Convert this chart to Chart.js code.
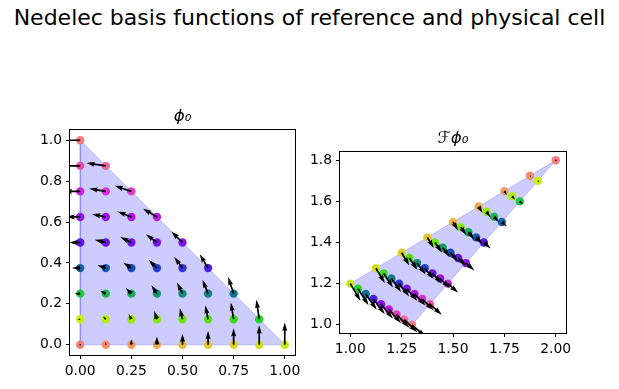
<!DOCTYPE html>
<html>
<head>
<meta charset="utf-8">
<script src="https://cdn.jsdelivr.net/npm/chart.js@4.4.1/dist/chart.umd.min.js"></script>
<style>
body { margin: 0; background: #fff; }
#wrap { position: relative; width: 619px; height: 389px; overflow: hidden; }
#wrap canvas { position: absolute; left: 0; top: 0; }
#sup { position: absolute; left: 0; top: 5px; width: 619px; text-align: center;
       font-family: 'DejaVu Sans'; font-size: 22px; color: #000; }
</style>
</head>
<body>
<div id="wrap">
  <div id="sup">Nedelec basis functions of reference and physical cell</div>
  <canvas id="refChart" width="619" height="389"></canvas>
  <canvas id="physChart" width="619" height="389"></canvas>
</div>
<script>
// reference cell: sample points and basis function phi_0 at them
const refX = [0, 0.125, 0.25, 0.375, 0.5, 0.625, 0.75, 0.875, 1,
  0, 0.125, 0.25, 0.375, 0.5, 0.625, 0.75, 0.875,
  0, 0.125, 0.25, 0.375, 0.5, 0.625, 0.75,
  0, 0.125, 0.25, 0.375, 0.5, 0.625,
  0, 0.125, 0.25, 0.375, 0.5,
  0, 0.125, 0.25, 0.375,
  0, 0.125, 0.25,
  0, 0.125,
  0]
const refY = [0, 0, 0, 0, 0, 0, 0, 0, 0,
  0.125, 0.125, 0.125, 0.125, 0.125, 0.125, 0.125, 0.125,
  0.25, 0.25, 0.25, 0.25, 0.25, 0.25, 0.25,
  0.375, 0.375, 0.375, 0.375, 0.375, 0.375,
  0.5, 0.5, 0.5, 0.5, 0.5,
  0.625, 0.625, 0.625, 0.625,
  0.75, 0.75, 0.75,
  0.875, 0.875,
  1]
const refU = [0, 0, 0, 0, 0, 0, 0, 0, 0,
  -0.125, -0.125, -0.125, -0.125, -0.125, -0.125, -0.125, -0.125,
  -0.25, -0.25, -0.25, -0.25, -0.25, -0.25, -0.25,
  -0.375, -0.375, -0.375, -0.375, -0.375, -0.375,
  -0.5, -0.5, -0.5, -0.5, -0.5,
  -0.625, -0.625, -0.625, -0.625,
  -0.75, -0.75, -0.75,
  -0.875, -0.875,
  -1]
const refV = [0, 0.125, 0.25, 0.375, 0.5, 0.625, 0.75, 0.875, 1,
  0, 0.125, 0.25, 0.375, 0.5, 0.625, 0.75, 0.875,
  0, 0.125, 0.25, 0.375, 0.5, 0.625, 0.75,
  0, 0.125, 0.25, 0.375, 0.5, 0.625,
  0, 0.125, 0.25, 0.375, 0.5,
  0, 0.125, 0.25, 0.375,
  0, 0.125, 0.25,
  0, 0.125,
  0]

// physical cell: mapped points and pulled-back basis function
const physX = [2, 1.875, 1.75, 1.625, 1.5, 1.375, 1.25, 1.125, 1,
  1.9125, 1.7875, 1.6625, 1.5375, 1.4125, 1.2875, 1.1625, 1.0375,
  1.825, 1.7, 1.575, 1.45, 1.325, 1.2, 1.075,
  1.7375, 1.6125, 1.4875, 1.3625, 1.2375, 1.1125,
  1.65, 1.525, 1.4, 1.275, 1.15,
  1.5625, 1.4375, 1.3125, 1.1875,
  1.475, 1.35, 1.225,
  1.3875, 1.2625,
  1.3]
const physY = [1.8, 1.725, 1.65, 1.575, 1.5, 1.425, 1.35, 1.275, 1.2,
  1.7, 1.625, 1.55, 1.475, 1.4, 1.325, 1.25, 1.175,
  1.6, 1.525, 1.45, 1.375, 1.3, 1.225, 1.15,
  1.5, 1.425, 1.35, 1.275, 1.2, 1.125,
  1.4, 1.325, 1.25, 1.175, 1.1,
  1.3, 1.225, 1.15, 1.075,
  1.2, 1.125, 1.05,
  1.1, 1.025,
  1.0]
const physU = [0, 0.197, 0.395, 0.592, 0.789, 0.987, 1.184, 1.382, 1.579,
  0.263, 0.461, 0.658, 0.855, 1.053, 1.25, 1.447, 1.645,
  0.526, 0.724, 0.921, 1.118, 1.316, 1.513, 1.711,
  0.789, 0.987, 1.184, 1.382, 1.579, 1.776,
  1.053, 1.25, 1.447, 1.645, 1.842,
  1.316, 1.513, 1.711, 1.908,
  1.579, 1.776, 1.974,
  1.842, 2.039,
  2.105]
const physV = [0, -0.329, -0.658, -0.987, -1.316, -1.645, -1.974, -2.303, -2.632,
  -0.23, -0.559, -0.888, -1.217, -1.546, -1.875, -2.204, -2.533,
  -0.461, -0.789, -1.118, -1.447, -1.776, -2.105, -2.434,
  -0.691, -1.02, -1.349, -1.678, -2.007, -2.336,
  -0.921, -1.25, -1.579, -1.908, -2.237,
  -1.151, -1.48, -1.809, -2.138,
  -1.382, -1.711, -2.039,
  -1.612, -1.941,
  -1.842]

// cell outlines
const refTriX = [0, 1, 0, 0]
const refTriY = [0, 0, 1, 0]
const physTriX = [2, 1, 1.3, 2]
const physTriY = [1.8, 1.2, 1.0, 1.8]

// tick labels
const refXTicks = [0, 0.25, 0.5, 0.75, 1]
const refYTicks = [0, 0.2, 0.4, 0.6, 0.8, 1]
const physXTicks = [1, 1.25, 1.5, 1.75, 2]
const physYTicks = [1, 1.2, 1.4, 1.6, 1.8]

// point colours (cyclic map over the point index)
const colorStops = [
  [0, [245, 125, 125]], [4, [235, 185, 65]], [8, [200, 235, 20]], [9, [200, 240, 5]],
  [13, [110, 230, 10]], [16, [40, 210, 40]], [17, [30, 200, 60]], [20, [20, 150, 110]],
  [24, [20, 100, 160]], [27, [35, 60, 210]], [30, [90, 20, 230]], [34, [130, 20, 235]],
  [37, [170, 20, 230]], [40, [215, 45, 215]], [42, [235, 80, 175]], [44, [245, 125, 130]],
]
function pointColor(k) {
  for (let s = 0; s < colorStops.length - 1; s++) {
    const [k0, c0] = colorStops[s]
    const [k1, c1] = colorStops[s + 1]
    if (k >= k0 && k <= k1) {
      const t = (k - k0) / (k1 - k0)
      const c = c0.map((v, i) => Math.round(v + t * (c1[i] - v)))
      return `rgb(${c[0]},${c[1]},${c[2]})`
    }
  }
  return 'rgb(245,125,130)'
}
const colors = refX.map((_, k) => pointColor(k))

// quiver-like arrow, matplotlib proportions
function drawArrow(ctx, x0, y0, dx, dy, w) {
  const L = Math.hypot(dx, dy)
  ctx.fillStyle = '#000'
  if (L < w) {
    ctx.beginPath()
    ctx.arc(x0, y0, w / 2, 0, 2 * Math.PI)
    ctx.fill()
    return
  }
  let hl = 5 * w, hal = 4.5 * w, hw = 1.5 * w, sw = 0.5 * w
  let shape
  if (L < hl) {
    const s = L / hl
    shape = [[0, -sw * s], [(hl - hal) * s, -sw * s], [0, -hw * s], [L, 0], [0, hw * s], [(hl - hal) * s, sw * s], [0, sw * s]]
  } else {
    shape = [[0, -sw], [L - hal, -sw], [L - hl, -hw], [L, 0], [L - hl, hw], [L - hal, sw], [0, sw]]
  }
  const c = dx / L, s = dy / L
  ctx.beginPath()
  shape.forEach(([a, b], i) => {
    const px = x0 + a * c - b * s
    const py = y0 + a * s + b * c
    if (i) ctx.lineTo(px, py); else ctx.moveTo(px, py)
  })
  ctx.closePath()
  ctx.fill()
}

const quiverPlugin = {
  id: 'quiver',
  afterDatasetsDraw(chart, args, opts) {
    const { ctx, chartArea, scales } = chart
    const span = chartArea.right - chartArea.left
    const mags = opts.u.map((u, i) => Math.hypot(u, opts.v[i]))
    const amean = mags.reduce((a, b) => a + b, 0) / mags.length
    const k = span / (18 * amean)
    const w = 0.06 * span / 8
    ctx.save()
    ctx.beginPath()
    ctx.rect(chartArea.left, chartArea.top, span, chartArea.bottom - chartArea.top)
    ctx.clip()
    opts.x.forEach((x, i) => {
      const px = scales.x.getPixelForValue(x)
      const py = scales.y.getPixelForValue(opts.y[i])
      const m = mags[i]
      if (m === 0) { drawArrow(ctx, px, py, 0, 0, w); return }
      const L = m * k
      drawArrow(ctx, px, py, opts.u[i] / m * L, -opts.v[i] / m * L, w)
    })
    ctx.restore()
  },
  afterDraw(chart) {
    const { ctx, chartArea } = chart
    ctx.save()
    ctx.strokeStyle = '#000'
    ctx.lineWidth = 1
    ctx.strokeRect(Math.round(chartArea.left) - 0.5, Math.round(chartArea.top) - 0.5,
      Math.round(chartArea.right - chartArea.left) + 1, Math.round(chartArea.bottom - chartArea.top) + 1)
    ctx.restore()
  },
}

const tickFont = { family: 'DejaVu Sans', size: 13.9 }

function makeAxis(ticks, min, max, digits, isX) {
  return {
    type: 'linear',
    min: min,
    max: max,
    border: { display: false },
    grid: { drawOnChartArea: false, drawTicks: true, tickLength: 4, tickColor: '#000', lineWidth: 1 },
    ticks: {
      color: '#000',
      font: tickFont,
      padding: 4,
      autoSkip: false,
      maxRotation: 0,
      callback: (value) => Number(value).toFixed(digits),
    },
    afterBuildTicks: (scale) => {
      scale.ticks = ticks.map(v => ({ value: v }))
    },
    afterFit: (scale) => {
      if (isX) {
        scale.height = 30
        scale.paddingLeft = 0
        scale.paddingRight = 0
      } else {
        scale.width = 40
        scale.paddingTop = 0
        scale.paddingBottom = 0
      }
    },
  }
}

function makeChart(id, cfg) {
  const points = cfg.x.map((x, i) => ({ x: x, y: cfg.y[i] }))
  const tri = cfg.triX.map((x, i) => ({ x: x, y: cfg.triY[i] }))
  return new Chart(document.getElementById(id), {
    type: 'scatter',
    data: {
      datasets: [
        {
          data: points,
          pointRadius: 4.2,
          pointHoverRadius: 4.2,
          pointBorderWidth: 0,
          pointBackgroundColor: colors,
          clip: false,
        },
        {
          data: tri,
          showLine: true,
          fill: 'shape',
          backgroundColor: 'rgba(0,0,255,0.2)',
          borderColor: 'rgba(0,0,255,0.2)',
          borderWidth: 1,
          pointRadius: 0,
          tension: 0,
        },
      ],
    },
    options: {
      responsive: false,
      animation: false,
      events: [],
      layout: { padding: cfg.padding },
      scales: {
        x: makeAxis(cfg.xTicks, cfg.xMin, cfg.xMax, 2, true),
        y: makeAxis(cfg.yTicks, cfg.yMin, cfg.yMax, 1, false),
      },
      plugins: {
        legend: { display: false },
        tooltip: { enabled: false },
        title: {
          display: true,
          text: cfg.title,
          fullSize: false,
          color: '#000',
          font: { family: 'DejaVu Sans', size: 16.7, style: 'italic', weight: 'normal' },
          padding: { top: 0, bottom: 3 },
        },
        quiver: { x: cfg.x, y: cfg.y, u: cfg.u, v: cfg.v },
      },
    },
    plugins: [quiverPlugin],
  })
}

makeChart('refChart', {
  x: refX, y: refY, u: refU, v: refV,
  triX: refTriX, triY: refTriY,
  xTicks: refXTicks, yTicks: refYTicks,
  xMin: -0.05, xMax: 1.05, yMin: -0.05, yMax: 1.05,
  title: 'ϕ₀',
  padding: { left: 30, right: 324, top: 107, bottom: 4 },
})

makeChart('physChart', {
  x: physX, y: physY, u: physU, v: physV,
  triX: physTriX, triY: physTriY,
  xTicks: physXTicks, yTicks: physYTicks,
  xMin: 0.95, xMax: 2.05, yMin: 0.96, yMax: 1.84,
  title: 'ℱϕ₀',
  padding: { left: 300, right: 53, top: 129, bottom: 26 },
})
</script>
</body>
</html>
